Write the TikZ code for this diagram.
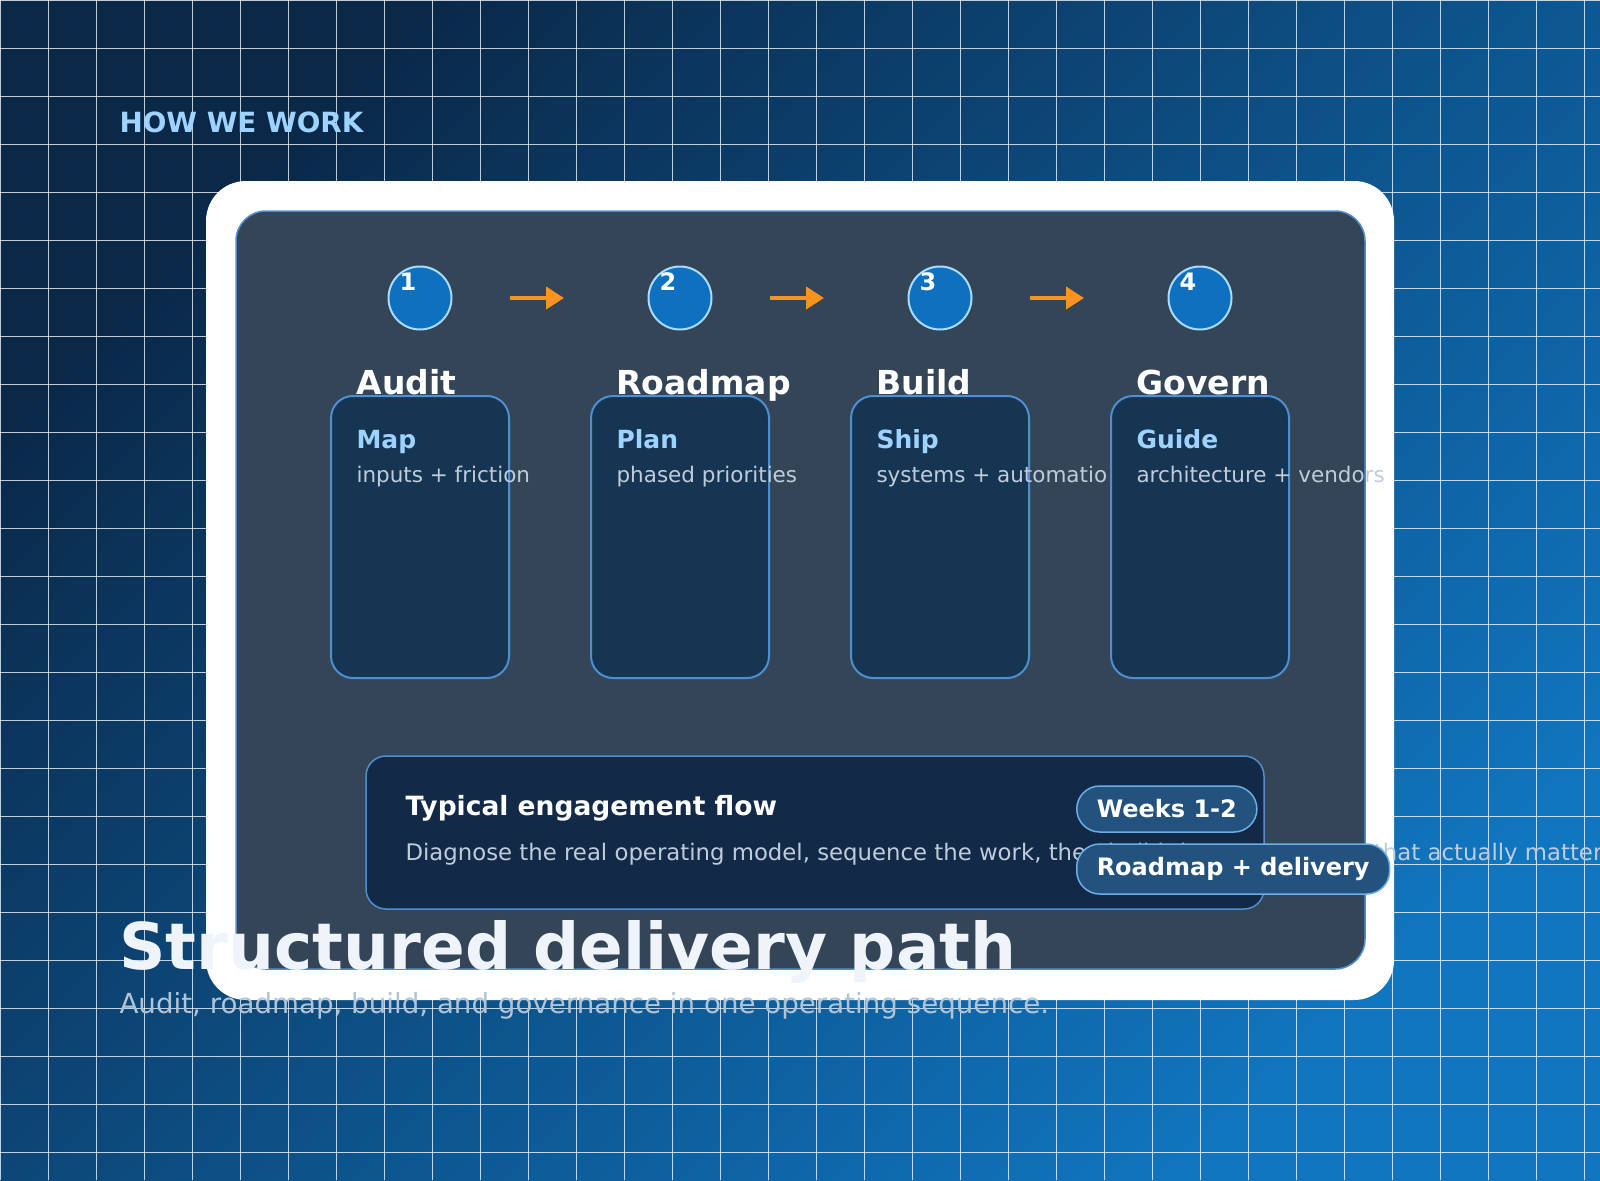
\documentclass[tikz,border=0pt]{standalone}
\usepackage{fontspec}
\setmainfont{DejaVu Sans}
\usetikzlibrary{arrows.meta}
\definecolor{cardline}{HTML}{4F8FD0}\definecolor{cardfill}{HTML}{163553}
\definecolor{circline}{HTML}{A6DCFF}\definecolor{circfill}{HTML}{1070C0}
\definecolor{orng}{HTML}{F7931E}\definecolor{lblue}{HTML}{9FD3FF}
\definecolor{greyt}{HTML}{BFCCDB}\definecolor{pillline}{HTML}{6AAEE8}
\definecolor{pillfill}{HTML}{24527F}\definecolor{inner}{HTML}{344558}
\definecolor{panel}{HTML}{122A47}
\definecolor{gul}{RGB}{10,40,72}
\definecolor{glr}{RGB}{16,118,192}
\definecolor{bigt}{RGB}{238,244,250}\definecolor{subt}{RGB}{176,196,216}
\begin{document}
\begin{tikzpicture}[x=1pt,y=-1pt,
  card/.style={draw=cardline,fill=cardfill,line width=2pt,rounded corners=22pt},
  circ/.style={circle,draw=circline,fill=circfill,line width=2pt,minimum size=63pt,inner sep=0pt},
  arr/.style={draw=orng,line width=4pt,-{Triangle[length=18pt,width=22pt]}},
  num/.style={anchor=base west,text=white,font=\bfseries\fontsize{24}{24}\selectfont},
  ttl/.style={anchor=base west,text=white,font=\bfseries\fontsize{33}{33}\selectfont},
  sub/.style={anchor=base west,text=lblue,font=\bfseries\fontsize{25}{25}\selectfont},
  desc/.style={anchor=base west,text=greyt,font=\fontsize{21.5}{21.5}\selectfont},
  pill/.style={draw=pillline,fill=pillfill,line width=1.5pt,rounded corners=23pt,text=white,font=\bfseries\fontsize{24}{24}\selectfont,anchor=west,inner xsep=20pt}]
\useasboundingbox (0,0) rectangle (1600,1180);
\shade[top color=gul,bottom color=glr,shading angle=45] (0,0) rectangle (1600,1180);
\begin{scope}
\clip (0,0) rectangle (1600,1180);
\foreach \i in {0,...,34} \draw[white,opacity=0.75,line width=0.9pt] (\i*48,0) -- (\i*48,1180);
\foreach \i in {0,...,25} \draw[white,opacity=0.75,line width=0.9pt] (0,\i*48) -- (1600,\i*48);
\end{scope}
\node[anchor=base west,text=lblue,font=\bfseries\fontsize{27.8}{27.8}\selectfont] (how) at (116,132) {HOW WE WORK};
\fill[white,rounded corners=40pt] (206,181) rectangle (1394,1000);
\draw[draw=cardline,fill=inner,line width=1.5pt,rounded corners=30pt] (236,211) rectangle (1365,969);
\foreach \k/\t/\s/\d [count=\n] in {0/Audit/Map/inputs + friction,260/Roadmap/Plan/phased priorities,520/Build/Ship/systems + automatio,780/Govern/Guide/architecture + vendors}{
  \node[circ] (c\n) at (420+\k,298) {};
  \node[num] (n\n) at (396+\k,290) {\n};
  \draw[card] (331+\k,396) rectangle (509+\k,678);
  \node[ttl] (t\n) at (353+\k,394) {\t};
  \node[sub] (s\n) at (353+\k,448) {\s};
  \node[desc] (d\n) at (353+\k,482) {\d};
}
\foreach \k/\m in {0/1,260/2,520/3}{
  \coordinate (a\m) at (510+\k,298); \coordinate (b\m) at (564+\k,298);
  \draw[arr] (a\m) -- (b\m);
}
\draw[draw=cardline,fill=panel,line width=1.5pt,rounded corners=20pt] (366,756) rectangle (1264,909);
\node[anchor=base west,text=white,font=\bfseries\fontsize{26.5}{26.5}\selectfont] (tef) at (402,815) {Typical engagement flow};
\node[desc,font=\fontsize{22.8}{22.8}\selectfont] (dg) at (402,860) {Diagnose the real operating model, sequence the work, then build the core systems that actually matter.};
\node[pill,minimum height=46pt] (p1) at (1076,809) {Weeks 1-2};
\node[pill,minimum height=50pt] (p2) at (1076,869) {Roadmap + delivery};
\node[anchor=base west,text=bigt,font=\bfseries\fontsize{64.5}{64.5}\selectfont] (big) at (116,969) {Structured delivery path};
\node[anchor=base west,text=subt,font=\fontsize{27.7}{27.7}\selectfont] (sbt) at (116,1013) {Audit, roadmap, build, and governance in one operating sequence.};
\end{tikzpicture}
\end{document}
